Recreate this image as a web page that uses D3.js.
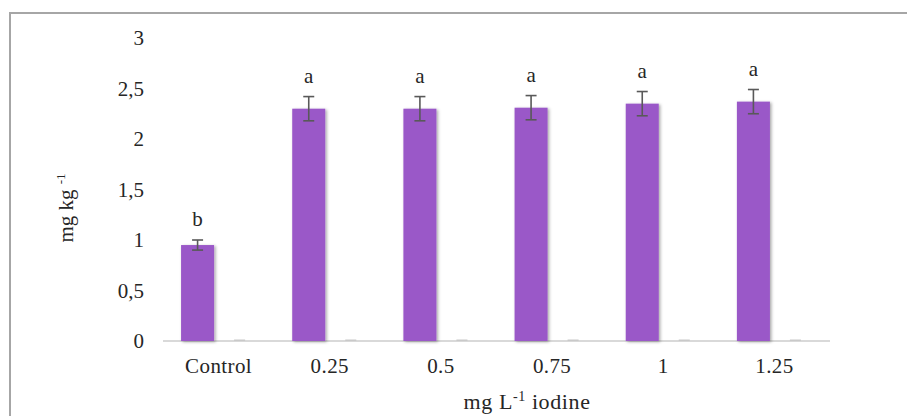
<!DOCTYPE html>
<html>
<head>
<meta charset="utf-8">
<script src="https://cdn.jsdelivr.net/npm/d3@7"></script>
<style>
  body { margin: 0; background: #fff; }
  svg text { font-family: "Liberation Serif", "DejaVu Serif", serif; fill: #262626; }
</style>
</head>
<body>
<script>
// values
var categories = ["Control", "0.25", "0.5", "0.75", "1", "1.25"];
var means = [0.95, 2.30, 2.30, 2.31, 2.35, 2.37];
var errors = [0.05, 0.12, 0.12, 0.12, 0.12, 0.12];
var letters = ["b", "a", "a", "a", "a", "a"];
var emptySeries = [0, 0, 0, 0, 0, 0];
var yTicks = [0, 0.5, 1, 1.5, 2, 2.5, 3];

var width = 907, height = 416;
var plot = {left: 163, right: 830, top: 38, bottom: 341};
var serif = "'Liberation Serif', serif";

var svg = d3.select("body").append("svg")
    .attr("width", width)
    .attr("height", height);

var defs = svg.append("defs");
var shadow = defs.append("filter").attr("id", "shadow")
    .attr("x", "-30%").attr("y", "-10%").attr("width", "160%").attr("height", "120%");
shadow.append("feDropShadow")
    .attr("dx", 1.5).attr("dy", 1)
    .attr("stdDeviation", 1.8)
    .attr("flood-color", "#000")
    .attr("flood-opacity", 0.35);

// chart frame (only top and left visible)
svg.append("rect")
    .attr("x", 10).attr("y", 13)
    .attr("width", 1000).attr("height", 500)
    .attr("fill", "none")
    .attr("stroke", "#a6a6a6")
    .attr("stroke-width", 2);

var x = d3.scaleBand()
    .domain(categories)
    .range([plot.left, plot.right])
    .padding(0);

var inner = d3.scaleBand()
    .domain(["mean", "empty"])
    .range([0, x.bandwidth()])
    .paddingInner(0.214)
    .paddingOuter(0.43);

var y = d3.scaleLinear()
    .domain([0, 3])
    .range([plot.bottom, plot.top]);

var commaFormat = function(d) { return String(d).replace(".", ","); };

// y axis labels
var yAxis = d3.axisLeft(y).tickValues(yTicks).tickFormat(commaFormat).tickSize(0).tickPadding(0);
var yg = svg.append("g")
    .attr("transform", "translate(144,0)")
    .call(yAxis)
    .attr("font-family", serif);
yg.select(".domain").remove();
yg.selectAll("text")
    .style("font-size", "21px")
    .attr("fill", "#262626")
    .attr("dy", "0.33em");

// baseline
svg.append("line")
    .attr("x1", plot.left).attr("x2", plot.right)
    .attr("y1", y(0)).attr("y2", y(0))
    .attr("stroke", "#d9d9d9")
    .attr("stroke-width", 2);

// x axis labels
var xAxis = d3.axisBottom(x).tickSize(0).tickPadding(0);
var xg = svg.append("g")
    .attr("transform", "translate(0," + y(0) + ")")
    .call(xAxis)
    .attr("font-family", serif);
xg.select(".domain").remove();
xg.selectAll("text")
    .style("font-size", "21px")
    .style("letter-spacing", "0.4px")
    .attr("fill", "#262626")
    .attr("dy", null)
    .attr("y", 32);

// zero-valued second series shows only as a faint stub on the baseline
svg.append("g").selectAll("rect")
    .data(emptySeries)
    .enter().append("rect")
    .attr("x", function(d, i) { return x(categories[i]) + inner("empty") + 11; })
    .attr("width", inner.bandwidth() - 22)
    .attr("y", function(d) { return y(d) - 1.5; })
    .attr("height", 1.5)
    .attr("fill", "#c9c9c9");

// bars
svg.append("g").selectAll("rect")
    .data(means)
    .enter().append("rect")
    .attr("x", function(d, i) { return x(categories[i]) + inner("mean"); })
    .attr("width", inner.bandwidth())
    .attr("y", function(d) { return y(d); })
    .attr("height", function(d) { return y(0) - y(d); })
    .attr("fill", "#9a58c8")
    .attr("filter", "url(#shadow)");

// error bars
var eg = svg.append("g").attr("stroke", "#595959").attr("stroke-width", 1.6);
means.forEach(function(m, i) {
  var cx = x(categories[i]) + inner("mean") + inner.bandwidth() / 2;
  var top = y(m + errors[i]), bot = y(m - errors[i]);
  eg.append("line").attr("x1", cx).attr("x2", cx).attr("y1", top).attr("y2", bot);
  eg.append("line").attr("x1", cx - 5.5).attr("x2", cx + 5.5).attr("y1", top).attr("y2", top);
  eg.append("line").attr("x1", cx - 5.5).attr("x2", cx + 5.5).attr("y1", bot).attr("y2", bot);
});

// significance letters
svg.append("g").selectAll("text")
    .data(letters)
    .enter().append("text")
    .attr("x", function(d, i) { return x(categories[i]) + inner("mean") + inner.bandwidth() / 2; })
    .attr("y", function(d, i) { return y(means[i] + errors[i]) - 14; })
    .attr("text-anchor", "middle")
    .attr("font-family", serif)
    .style("font-size", "21px")
    .text(function(d) { return d; });

// axis titles
var xt = svg.append("text")
    .attr("x", 527).attr("y", 409)
    .attr("text-anchor", "middle")
    .attr("font-family", serif)
    .style("font-size", "22px")
    .style("letter-spacing", "0.6px");
xt.append("tspan").text("mg L");
xt.append("tspan").attr("dy", -8).style("font-size", "14px").text("-1");
xt.append("tspan").attr("dy", 8).text(" iodine");

var yt = svg.append("text")
    .attr("transform", "translate(73,208) rotate(-90)")
    .attr("text-anchor", "middle")
    .attr("font-family", serif)
    .style("font-size", "21px");
yt.append("tspan").text("mg kg ");
yt.append("tspan").attr("dy", -8).style("font-size", "13px").text("-1");
</script>
</body>
</html>
